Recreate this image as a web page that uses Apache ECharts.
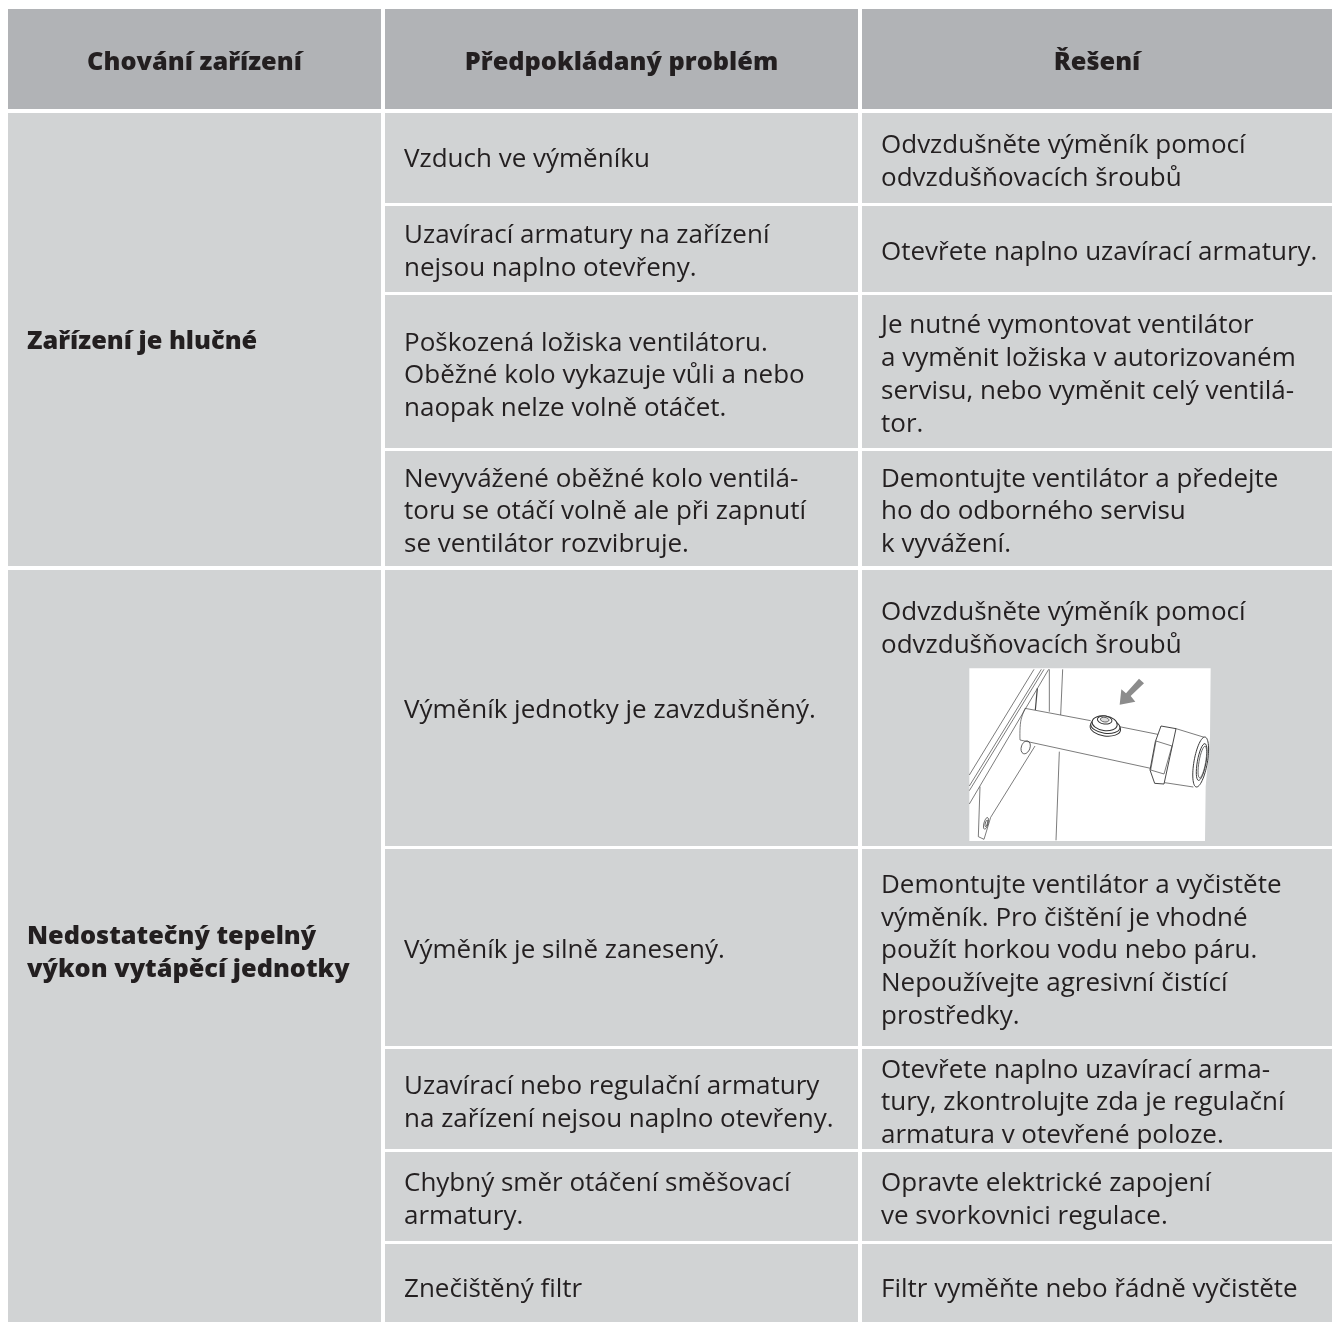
<!DOCTYPE html>
<html lang="cs">
<head>
<meta charset="utf-8">
<title>Chování zařízení</title>
<style>html,body{margin:0;padding:0;background:#fff;overflow:hidden}#c{width:1332px;height:1322px}</style>
<script src="https://cdn.jsdelivr.net/npm/echarts@6/dist/echarts.min.js"></script>
</head>
<body>
<div id="c"></div>
<script>
// ---- table content ----
const headers = ['Chování zařízení', 'Předpokládaný problém', 'Řešení'];
const behaviours = ['Zařízení je hlučné', 'Nedostatečný tepelný\nvýkon vytápěcí jednotky'];
const problems = [
  'Vzduch ve výměníku',
  'Uzavírací armatury na zařízení\nnejsou naplno otevřeny.',
  'Poškozená ložiska ventilátoru.\nOběžné kolo vykazuje vůli a nebo\nnaopak nelze volně otáčet.',
  'Nevyvážené oběžné kolo ventilá-\ntoru se otáčí volně ale při zapnutí\nse ventilátor rozvibruje.',
  'Výměník jednotky je zavzdušněný.',
  'Výměník je silně zanesený.',
  'Uzavírací nebo regulační armatury\nna zařízení nejsou naplno otevřeny.',
  'Chybný směr otáčení směšovací\narmatury.',
  'Znečištěný filtr'
];
const solutions = [
  'Odvzdušněte výměník pomocí\nodvzdušňovacích šroubů',
  'Otevřete naplno uzavírací armatury.',
  'Je nutné vymontovat ventilátor\na vyměnit ložiska v autorizovaném\nservisu, nebo vyměnit celý ventilá-\ntor.',
  'Demontujte ventilátor a předejte\nho do odborného servisu\nk vyvážení.',
  'Odvzdušněte výměník pomocí\nodvzdušňovacích šroubů',
  'Demontujte ventilátor a vyčistěte\nvýměník. Pro čištění je vhodné\npoužít horkou vodu nebo páru.\nNepoužívejte agresivní čistící\nprostředky.',
  'Otevřete naplno uzavírací arma-\ntury, zkontrolujte zda je regulační\narmatura v otevřené poloze.',
  'Opravte elektrické zapojení\nve svorkovnici regulace.',
  'Filtr vyměňte nebo řádně vyčistěte'
];

// ---- layout, kept apart from the content ----
const colX = [[8, 381], [385, 858], [862, 1332]];
const headY = [9, 109];
const rowY = [[113, 203], [206, 292], [295, 448], [451, 566], [570, 846], [849, 1046], [1049, 1149], [1152, 1241], [1244, 1322]];
const groupRows = [[0, 3], [4, 8]];
const groupTextY = [342, 953];
const problemTextY = [160, 252, 376, 512, 711, 951, 1103, 1200, 1290];
const solutionTextY = [162, 253, 375, 512, 629, 951, 1103, 1200, 1290];
const headTextY = 63;
const textPad = 19;
const FONT = '"Open Sans", "Noto Sans", sans-serif';
const SIZE = 26, BOLD_SIZE = 25.3, LINE = 32.8, INK = '#231f20', HEAD = '#b1b3b6', BODY = '#d1d3d4';

const cells = [];
headers.forEach((t, i) => cells.push({ box: [colX[i][0], headY[0], colX[i][1], headY[1]], text: t, bold: true, center: true, ty: headTextY, fill: HEAD }));
behaviours.forEach((t, i) => cells.push({ box: [colX[0][0], rowY[groupRows[i][0]][0], colX[0][1], rowY[groupRows[i][1]][1]], text: t, bold: true, ty: groupTextY[i], fill: BODY }));
problems.forEach((t, i) => cells.push({ box: [colX[1][0], rowY[i][0], colX[1][1], rowY[i][1]], text: t, ty: problemTextY[i], fill: BODY }));
solutions.forEach((t, i) => cells.push({ box: [colX[2][0], rowY[i][0], colX[2][1], rowY[i][1]], text: t, ty: solutionTextY[i], fill: BODY }));

const cellData = cells.map(c => c.box);

function renderCell(params, api) {
  const c = cells[params.dataIndex];
  const a = api.coord([api.value(0), api.value(1)]);
  const b = api.coord([api.value(2), api.value(3)]);
  const tp = api.coord([c.box[0], c.ty]);
  return {
    type: 'group',
    children: [
      { type: 'rect', shape: { x: a[0], y: a[1], width: b[0] - a[0], height: b[1] - a[1] }, style: { fill: c.fill } },
      { type: 'text', style: {
          x: c.center ? (a[0] + b[0]) / 2 : tp[0] + textPad,
          y: tp[1],
          text: c.text,
          fill: INK,
          font: (c.bold ? '800 ' + BOLD_SIZE : '400 ' + SIZE) + 'px ' + FONT,
          lineHeight: LINE,
          align: c.center ? 'center' : 'left',
          verticalAlign: 'middle'
        } }
    ]
  };
}

// ---- the small valve illustration inside the "zavzdušněný" row ----
const ox = 960, oy = 660, k = 3;
const P = pts => pts.map(p => [ox + p[0] / k, oy + p[1] / k]);
const line = (pts, w, smooth) => ({ type: 'polyline', z: 101, shape: { points: P(pts), smooth: smooth || 0 }, style: { stroke: '#444', lineWidth: w || 0.7, fill: null } });
const ell = (cx, cy, rx, ry, rot, fill, w) => ({ type: 'ellipse', z: 101, rotation: -(rot || 0) * Math.PI / 180,
  x: ox + cx / k, y: oy + cy / k, shape: { cx: 0, cy: 0, rx: rx / k, ry: ry / k }, style: { stroke: '#333', lineWidth: w || 0.7, fill: fill || null } });
const illustration = [
  { type: 'polygon', z: 100, shape: { points: P([[28, 25], [752, 25], [750, 230], [737, 380], [735, 543], [28, 543]]) }, style: { fill: '#ffffff' } },
  line([[222, 28], [28, 345]]), line([[244, 28], [28, 378]]), line([[252, 28], [28, 392]]), line([[266, 28], [28, 432]]),
  line([[268, 28], [268, 155]]), line([[308, 28], [302, 165]]), line([[232, 85], [226, 150]], 1.2),
  line([[298, 275], [288, 541]]),
  line([[195, 145], [392, 182]]), line([[478, 200], [598, 224]]),
  line([[180, 240], [572, 325]]),
  line([[195, 145], [182, 185], [180, 240]], 0.7, 0.4),
  ell(197, 262, 13, 20, 20),
  line([[225, 258], [92, 472], [72, 538], [55, 530], [60, 380]]),
  ell(78, 490, 6, 18, 15), ell(79, 490, 3, 10, 15),
  ell(436, 204, 46, 24, 8, '#fff', 1), ell(436, 198, 44, 22, 8, '#fff', 1), ell(434, 190, 38, 22, 8, '#fff', 1), ell(434, 180, 22, 12, 8, '#fff', 1), ell(434, 179, 13, 7, 8, '#ddd', 0.7),
  { type: 'polygon', z: 101, shape: { points: P([[603, 198], [648, 206], [612, 372], [584, 370], [570, 330], [586, 245]]) }, style: { fill: '#fff', stroke: '#333', lineWidth: 0.9 } },
  line([[588, 243], [636, 258]]), line([[572, 330], [612, 342]]), line([[588, 243], [572, 330]]), line([[636, 258], [612, 342]]),
  line([[645, 205], [733, 232]]), line([[614, 368], [700, 381]]),
  ell(722, 306, 20, 76, 10, '#fff', 0.9), ell(725, 306, 13, 56, 10, '#fff', 0.9), ell(727, 306, 10, 48, 10, '#fff', 0.7),
  { type: 'polygon', z: 102, shape: { points: P([[537, 56], [552, 70], [512, 108], [526, 125], [479, 134], [484, 88], [498, 100]]) }, style: { fill: '#8c8c8c', stroke: null } }
];

const chart = echarts.init(document.getElementById('c'), null, { renderer: 'canvas', width: 1332, height: 1322 });
chart.setOption({
  animation: false,
  backgroundColor: '#ffffff',
  grid: { left: 0, right: 0, top: 0, bottom: 0 },
  xAxis: { type: 'value', min: 0, max: 1332, show: false },
  yAxis: { type: 'value', min: 0, max: 1322, inverse: true, show: false },
  series: [{ type: 'custom', renderItem: renderCell, data: cellData, clip: false, silent: true, encode: { x: [0, 2], y: [1, 3] } }],
  graphic: { elements: illustration }
});
</script>
</body>
</html>
